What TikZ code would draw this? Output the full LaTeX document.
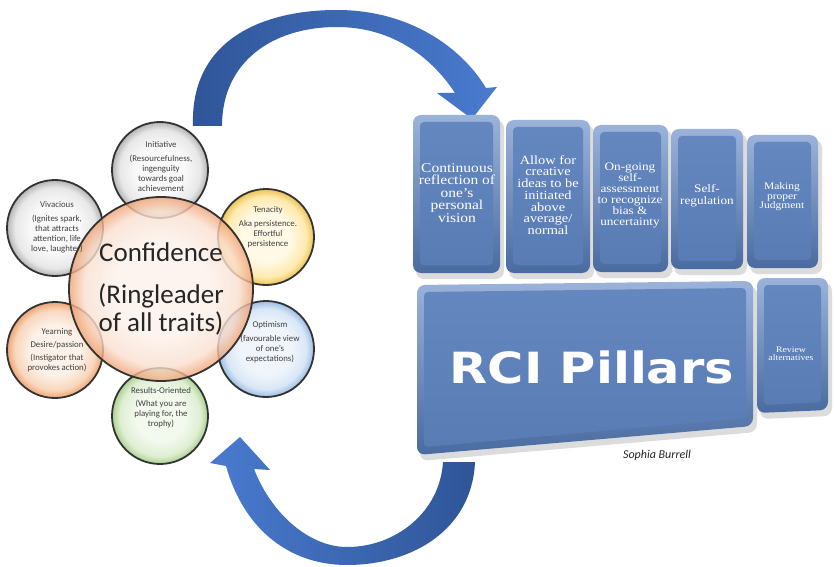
\documentclass[tikz,border=0pt]{standalone}
\usepackage{fontspec}
\setmainfont{Carlito}
\newfontfamily\boxserif[FakeStretch=1.15]{Liberation Serif}
\newfontfamily\heavysans[FakeStretch=1.15]{DejaVu Sans}
\definecolor{arrowblue}{HTML}{4A7BD0}
\definecolor{arrowdark}{HTML}{2F5597}
\definecolor{ringc}{HTML}{333333}
\definecolor{txtc}{HTML}{404040}
\definecolor{rimlight}{HTML}{9BB3DA}
\definecolor{rimdark}{HTML}{4A6BA0}
\definecolor{facetop}{HTML}{6487BF}
\definecolor{facebot}{HTML}{5A7CB5}
% ball shadings: light centre, coloured rim
\newcommand\defball[4]{%
  \definecolor{#1a}{HTML}{#2}\definecolor{#1b}{HTML}{#3}\definecolor{#1c}{HTML}{#4}%
  \pgfdeclareradialshading{#1}{\pgfpoint{0bp}{0bp}}{color(0bp)=(#1a); color(13bp)=(#1a); color(21bp)=(#1b); color(25bp)=(#1c); color(50bp)=(#1c)}}
\defball{ballgray}{F8F8F8}{E4E4E4}{A8A8A8}
\defball{ballyellow}{FFF8E1}{FFE7A0}{E8B83A}
\defball{ballblue}{EEF4FB}{D3E3F5}{8AB1E0}
\defball{ballorange}{FDF0E6}{F8D0B2}{EC955C}
\defball{ballgreen}{F1F8EB}{DAECCB}{9CC97E}
\defball{ballpeach}{FDF2EB}{FADFCF}{F0A273}
\tikzset{
  trait/.style={circle, minimum size=96pt, inner sep=0pt, draw=ringc, line width=1.8pt, fill opacity=0.85, draw opacity=1},
  traittext/.style={align=center, text=txtc, font=\fontsize{8.8}{10}\selectfont, inner sep=0pt},
  boxtext/.style={align=center, text=white, inner sep=0pt},
}
% #1 xl, #2 xr, #3 y top-left, #4 y top-right, #5 y bottom-left, #6 y bottom-right
\newcommand\bevelbox[6]{%
  \fill[black!30, opacity=0.45, rounded corners=8] (#1+3,#3+5) -- (#2+4,#4+5) -- (#2+4,#6+6) -- (#1+3,#5+6) -- cycle;
  \shade[top color=rimlight, bottom color=rimdark, rounded corners=8] (#1,#3) -- (#2,#4) -- (#2,#6) -- (#1,#5) -- cycle;
  \shade[top color=facetop, bottom color=facebot, rounded corners=4] (#1+7,#3+7) -- (#2-7,#4+7) -- (#2-7,#6-8) -- (#1+7,#5-8) -- cycle;
}
\begin{document}
\begin{tikzpicture}[x=1pt,y=-1pt]
\useasboundingbox (0,0) rectangle (836,567);
\fill[white] (0,0) rectangle (836,567);

% ---------- curved arrows ----------
\shade[left color=arrowdark, right color=arrowblue]
  (193,126) .. controls (190,40) and (262,10) .. (337,10)
  .. controls (410,10) and (462,48) .. (486,88)
  -- (497,87) -- (472,119) -- (437,93) -- (455,93)
  .. controls (430,55) and (390,27) .. (337,27)
  .. controls (272,27) and (222,62) .. (222,126) -- cycle;

\shade[left color=arrowblue, right color=arrowdark]
  (475,462) .. controls (472,530) and (412,565) .. (347,565)
  .. controls (290,565) and (244,530) .. (226,466)
  -- (210,463) -- (240,437) -- (270,470) -- (254,469)
  .. controls (272,515) and (310,547) .. (347,547)
  .. controls (396,547) and (440,512) .. (443,462) -- cycle;

% ---------- trait circles ----------
\node[trait, shade, shading=ballgray] (init) at (160,170) {};
\node[trait, shade, shading=ballgray] (viv) at (55,228) {};
\node[trait, shade, shading=ballyellow] (ten) at (266,237) {};
\node[trait, shade, shading=ballblue] (opt) at (266,349) {};
\node[trait, shade, shading=ballorange] (yearn) at (55,350) {};
\node[trait, shade, shading=ballgreen] (res) at (160,416) {};

\node[circle, minimum size=184pt, inner sep=0pt, draw=ringc, line width=1.8pt, fill opacity=0.8,
      shade, shading=ballpeach] (conf) at (161,289) {};

% ---------- texts ----------
\node[align=center, text=black!85, font=\fontsize{27}{28}\selectfont, inner sep=0pt] (conft) at (161,289)
  {Confidence\\[14pt](Ringleader\\of all traits)};

\node[traittext] (initt) at (161,166) {Initiative\\[4pt](Resourcefulness,\\ingenguity\\towards goal\\achievement};
\node[traittext] (vivt) at (57,227) {Vivacious\\[4pt](Ignites spark,\\that attracts\\attention, life\\love, laughter)};
\node[traittext] (tent) at (268,227) {Tenacity\\[4pt]Aka persistence.\\Effortful\\persistence};
\node[traittext] (optt) at (270,342) {Optimism\\[4pt](favourable view\\of one’s\\expectations)};
\node[traittext] (yearnt) at (57,350) {Yearning\\[3pt]Desire/passion\\[3pt](Instigator that\\provokes action)};
\node[traittext] (rest) at (161,408) {Results-Oriented\\[3pt](What you are\\playing for, the\\trophy)};

% ---------- pillar boxes ----------
\bevelbox{413}{500}{115}{115}{273}{273}
\bevelbox{506}{590}{120}{120}{273}{273}
\bevelbox{593}{668}{125}{125}{272}{272}
\bevelbox{671}{743}{129}{129}{269}{269}
\bevelbox{747}{818}{135}{135}{268}{268}
\bevelbox{417}{753}{285}{281}{455}{426}
\bevelbox{757}{828}{278}{278}{413}{410}

\node[boxtext, font=\boxserif\fontsize{13.5}{12.5}\selectfont] (b1) at (457,193)
  {Continuous\\reflection of\\one’s\\personal\\vision};
\node[boxtext, font=\boxserif\fontsize{12.5}{11.7}\selectfont] (b2) at (548,195)
  {Allow for\\creative\\ideas to be\\initiated\\above\\average/\\normal};
\node[boxtext, font=\boxserif\fontsize{11.5}{11}\selectfont] (b3) at (630,195)
  {On-going\\self-\\assessment\\to recognize\\bias \&\\uncertainty};
\node[boxtext, font=\boxserif\fontsize{11.5}{12}\selectfont] (b4) at (707,196)
  {Self-\\regulation};
\node[boxtext, font=\boxserif\fontsize{10}{9.5}\selectfont] (b5) at (782,197)
  {Making\\proper\\Judgment};
\node[boxtext, font=\boxserif\fontsize{8.5}{8}\selectfont] (rev) at (791,354)
  {Review\\alternatives};
\node[boxtext, font=\heavysans\bfseries\fontsize{43}{43}\selectfont] (pillars) at (592,367) {RCI Pillars};

\node[font=\itshape\fontsize{12}{14}\selectfont, text=black!85, inner sep=0pt] (author) at (657,455) {Sophia Burrell};
\end{tikzpicture}
\end{document}
